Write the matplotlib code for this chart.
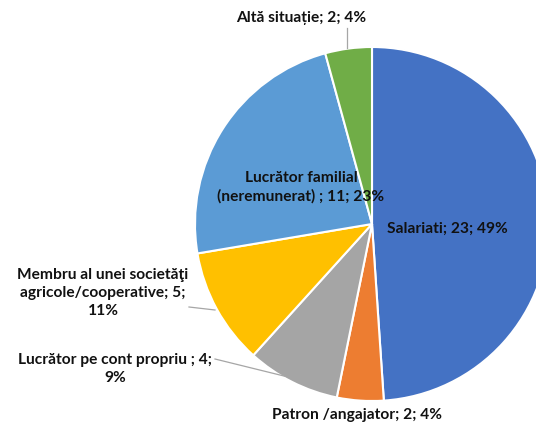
import matplotlib
matplotlib.use("Agg")
import matplotlib.pyplot as plt

# slices clockwise from 12 o'clock
labels = [
    "Salariati",
    "Patron /angajator",
    "Lucrător pe cont propriu ",
    "Membru al unei societăţi agricole/cooperative",
    "Lucrător familial (neremunerat) ",
    "Altă situație",
]
counts = [23, 2, 4, 5, 11, 2]
percents = [49, 4, 9, 11, 23, 4]
colors = ["#4472C4", "#ED7D31", "#A5A5A5", "#FFC000", "#5B9BD5", "#70AD47"]

W, H = 536, 427
CX, CY, R = 372, 225, 177  # pie centre and radius in pixels


def to_data(px, py):
    return (px - CX) / R, (CY - py) / R


fig = plt.figure(figsize=(W / 100, H / 100), dpi=100)
ax = fig.add_axes([(CX - R) / W, 1 - (CY + R) / H, 2 * R / W, 2 * R / H])
ax.pie(counts, colors=colors, startangle=90, counterclock=False, radius=1,
       wedgeprops=dict(edgecolor="white", linewidth=1.5))
ax.set_xlim(-1, 1)
ax.set_ylim(-1, 1)
ax.axis("off")

txt = dict(fontsize=11.2, fontweight="bold", family=["Lato", "DejaVu Sans"],
           color="#111111", ha="center", va="center", clip_on=False,
           linespacing=1.32)

texts = [
    (f"{labels[0]}; {counts[0]}; {percents[0]}%", (447, 229)),
    (f"{labels[1]}; {counts[1]}; {percents[1]}%", (357, 415)),
    (f"{labels[2]}; {counts[2]};\n{percents[2]}%", (115, 369)),
    (f"Membru al unei societăţi\nagricole/cooperative; {counts[3]};\n{percents[3]}%", (103, 293)),
    (f"Lucrător familial\n{'(neremunerat) '}; {counts[4]}; {percents[4]}%", (301, 187)),
    (f"{labels[5]}; {counts[5]}; {percents[5]}%", (301, 18)),
]
for s, (px, py) in texts:
    x, y = to_data(px, py)
    ax.text(x, y, s, **txt)

# leader lines
leaders = [
    [(347, 29), (347, 49)],
    [(189, 308), (215, 311)],
    [(215, 360), (288, 378)],
]
for pts in leaders:
    xs, ys = zip(*[to_data(px, py) for px, py in pts])
    ax.plot(xs, ys, color="#A6A6A6", linewidth=0.9, clip_on=False)

fig.savefig("out.png", dpi=100)
